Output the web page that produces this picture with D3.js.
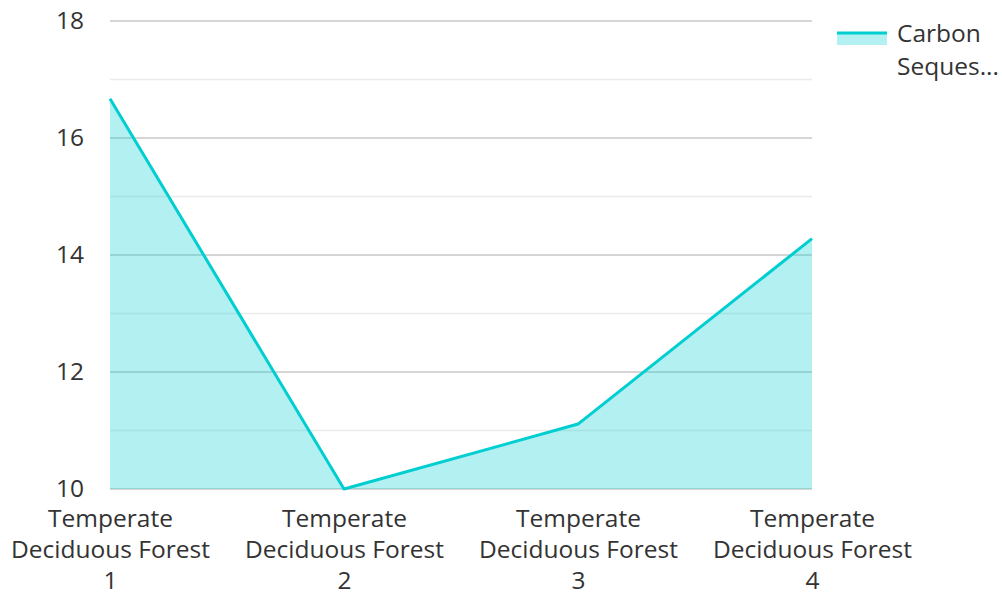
<!DOCTYPE html>
<html><head><meta charset="utf-8">
<script src="https://cdn.jsdelivr.net/npm/d3@7"></script>
<style>body{margin:0;background:#fff}svg{display:block}text{font-family:"Open Sans","Noto Sans",sans-serif;fill:#333}</style>
</head><body>
<svg id="c" width="1002" height="592"></svg>
<script>
const categories = ["Temperate Deciduous Forest 1","Temperate Deciduous Forest 2","Temperate Deciduous Forest 3","Temperate Deciduous Forest 4"];
const labelLines = [["Temperate","Deciduous Forest","1"],["Temperate","Deciduous Forest","2"],["Temperate","Deciduous Forest","3"],["Temperate","Deciduous Forest","4"]];
const values = [16.67, 10.0, 11.11, 14.28];
const majorTicks = [10,12,14,16,18];
const minorTicks = [11,13,15,17];
const seriesName = "Carbon Sequestration";
const legendLines = ["Carbon","Seques..."];
const color = "#00CED1";

const svg = d3.select("#c");
const L=110,R=812,T=21,B=489;
const x = d3.scalePoint().domain(categories).range([L,R]);
const y = d3.scaleLinear().domain([10,18]).range([B,T]);

const fs = 24.5;
// grid
svg.append("g").selectAll("line").data(minorTicks).join("line")
  .attr("x1",L).attr("x2",R).attr("y1",d=>y(d)).attr("y2",d=>y(d))
  .attr("stroke","#ebebeb").attr("stroke-width",1.5);
svg.append("g").selectAll("line").data(majorTicks).join("line")
  .attr("x1",L).attr("x2",R).attr("y1",d=>y(d)).attr("y2",d=>y(d))
  .attr("stroke","#c8c8c8").attr("stroke-width",1.5);

const data = categories.map((c,i)=>({c,v:values[i]}));
svg.append("path").datum(data)
  .attr("d",d3.area().x(d=>x(d.c)).y0(y(10)).y1(d=>y(d.v)))
  .attr("fill",color).attr("fill-opacity",0.3);
svg.append("path").datum(data)
  .attr("d",d3.line().x(d=>x(d.c)).y(d=>y(d.v)))
  .attr("fill","none").attr("stroke",color).attr("stroke-width",3).attr("stroke-linejoin","round");

// y axis
const ya = svg.append("g").attr("transform",`translate(${L},0)`)
  .call(d3.axisLeft(y).tickValues(majorTicks).tickSize(0).tickPadding(26));
ya.select(".domain").remove();
ya.selectAll("text").style("font-size",fs+"px").attr("fill","#333").style("font-family",'"Open Sans",sans-serif');

// x axis
const xa = svg.append("g").attr("transform",`translate(0,${B})`)
  .call(d3.axisBottom(x).tickSize(0).tickFormat(""));
xa.select(".domain").remove();
xa.selectAll(".tick").each(function(d,i){
  const t = d3.select(this).append("text").attr("text-anchor","middle").style("font-size",fs+"px").attr("fill","#333");
  labelLines[i].forEach((s,j)=>t.append("tspan").attr("x",0).attr("y",38+j*31).text(s));
});

// legend
const lg = svg.append("g");
lg.append("rect").attr("x",837).attr("y",34).attr("width",50).attr("height",11).attr("fill",color).attr("fill-opacity",0.3);
lg.append("line").attr("x1",837).attr("x2",887).attr("y1",33).attr("y2",33).attr("stroke",color).attr("stroke-width",3);
const lt = lg.append("text").style("font-size",fs+"px");
legendLines.forEach((s,j)=>lt.append("tspan").attr("x",897).attr("y",42+j*33).text(s));
</script>
</body></html>
